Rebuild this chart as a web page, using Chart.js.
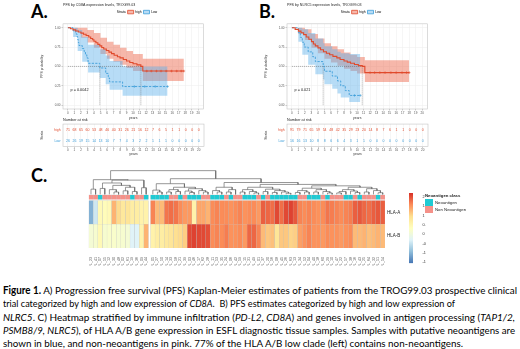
<!DOCTYPE html>
<html>
<head>
<meta charset="utf-8">
<script src="https://cdn.jsdelivr.net/npm/chart.js@4.4.1/dist/chart.umd.min.js"></script>
<style>
  html, body { margin: 0; padding: 0; background: #fff; }
  body { position: relative; width: 520px; height: 349px; overflow: hidden; }
  canvas { position: absolute; }
  .panel { position: absolute; font: bold 18px Lato, sans-serif; line-height: 18px; color: #000; }
  #caption { position: absolute; left: 3px; top: 284px; font: 10.4px Lato, sans-serif; color: #000; }
  #caption div { white-space: nowrap; width: max-content; height: 13.3px; line-height: 13.3px; transform-origin: 0 50%; }
  .neo { position: absolute; font: 4.3px 'Liberation Sans', Arial, sans-serif; color: #222; white-space: nowrap; line-height: 5px; }
  .swatch { position: absolute; width: 8px; height: 7px; }
</style>
</head>
<body>
<div class="panel" style="left:31px;top:2px">A.</div>
<div class="panel" style="left:259px;top:2px">B.</div>
<div class="panel" style="left:31px;top:166px">C.</div>

<canvas id="kmA" width="168" height="120" style="left:40px;top:0px"></canvas>
<canvas id="riskA" width="168" height="42" style="left:40px;top:114px"></canvas>
<canvas id="kmB" width="168" height="120" style="left:264px;top:0px"></canvas>
<canvas id="riskB" width="168" height="42" style="left:264px;top:114px"></canvas>
<canvas id="heat" width="335" height="101" style="left:86px;top:165px"></canvas>
<canvas id="cbar" width="22" height="80" style="left:404px;top:188px"></canvas>

<div class="neo" style="left:425px;top:192.5px;font-weight:bold">Neoantigen class</div>
<div class="swatch" id="swNeo" style="left:425px;top:199px"></div>
<div class="swatch" id="swNon" style="left:425px;top:206px"></div>
<div class="neo" style="left:435px;top:200px">Neoantigen</div>
<div class="neo" style="left:435px;top:207px">Non Neoantigen</div>

<div id="caption">
  <div data-w="514"><b>Figure 1.</b> A) Progression free survival (PFS) Kaplan-Meier estimates of patients from the TROG99.03 prospective clinical</div>
  <div data-w="452">trial categorized by high and low expression of <i>CD8A</i>.&nbsp; B) PFS estimates categorized by high and low expression of</div>
  <div data-w="512"><i>NLRC5</i>. C) Heatmap stratified by immune infiltration (<i>PD-L2, CD8A</i>) and genes involved in antigen processing (<i>TAP1/2,</i></div>
  <div data-w="512"><i>PSMB8/9, NLRC5</i>), of HLA A/B gene expression in ESFL diagnostic tissue samples. Samples with putative neoantigens are</div>
  <div data-w="460">shown in blue, and non-neoantigens in pink. 77% of the HLA A/B low clade (left) contains non-neoantigens.</div>
</div>

<script>
// ================= DATA =================
const yearTicks = [0, 1, 2, 3, 4, 5, 6, 7, 8, 9, 10, 11, 12, 13, 14, 15, 16, 17, 18, 19, 20];
const probTicks = [0, 0.25, 0.5, 0.75, 1];

// A) CD8A high / low
const aHighT = [0, 0.4, 0.8, 1.2, 1.6, 2.0, 2.4, 2.8, 3.2, 3.5, 3.8, 4.0, 4.3, 4.6, 4.9, 5.2, 5.5, 5.9, 6.3, 6.7, 7.1, 7.6, 8.0, 8.5, 9.0, 9.5, 10.0, 10.6, 11.2, 11.5, 17.8];
const aHighS = [1, 0.986, 0.972, 0.958, 0.944, 0.93, 0.915, 0.9, 0.88, 0.86, 0.845, 0.825, 0.805, 0.785, 0.765, 0.745, 0.725, 0.705, 0.685, 0.665, 0.645, 0.625, 0.61, 0.59, 0.57, 0.55, 0.535, 0.52, 0.50, 0.44, 0.44];
const aHighBandT = [0, 1, 2, 3, 4, 5, 6, 7, 8, 9, 10, 11.5, 17.8];
const aHighUp = [1, 1, 1, 0.97, 0.93, 0.87, 0.82, 0.78, 0.74, 0.70, 0.66, 0.6, 0.6];
const aHighLo = [1, 0.95, 0.87, 0.81, 0.74, 0.66, 0.6, 0.56, 0.52, 0.48, 0.44, 0.31, 0.31];
const aHighCens = [12.1, 12.8, 13.6, 14.3, 15.1, 15.9, 16.7, 17.4, 17.8];

const aLowT = [0, 0.8, 1.2, 1.4, 1.5, 1.6, 1.7, 2.2, 2.5, 2.7, 2.9, 3.1, 4.9, 5.8, 6.2, 6.4, 8.4, 15.3];
const aLowS = [1, 0.96, 0.92, 0.885, 0.846, 0.808, 0.77, 0.73, 0.69, 0.65, 0.61, 0.54, 0.48, 0.41, 0.35, 0.30, 0.24, 0.24];
const aLowBandT = [0, 0.8, 1.5, 2.2, 3.1, 4.9, 5.8, 6.4, 8.4, 15.3];
const aLowUp = [1, 1, 0.97, 0.88, 0.78, 0.72, 0.64, 0.57, 0.5, 0.5];
const aLowLo = [1, 0.88, 0.7, 0.56, 0.42, 0.35, 0.27, 0.2, 0.12, 0.12];
const aLowCens = [10.2, 11.8, 13.4, 15.3];

const riskAHigh = [71, 68, 65, 60, 53, 48, 46, 40, 31, 26, 21, 16, 12, 7, 6, 5, 1, 1, 0, 0, 0];
const riskALow = [26, 26, 19, 15, 14, 13, 10, 7, 7, 4, 3, 2, 2, 1, 1, 1, 0, 0, 0, 0, 0];

// B) NLRC5 high / low
const bHighT = [0, 0.5, 1.0, 1.4, 1.8, 2.2, 2.6, 3.0, 3.3, 3.6, 4.0, 4.4, 4.85, 5.3, 5.8, 6.3, 6.9, 7.4, 8.0, 8.5, 9.0, 9.6, 10.2, 10.8, 11.2, 18.0];
const bHighS = [1, 0.978, 0.956, 0.935, 0.91, 0.88, 0.85, 0.82, 0.79, 0.765, 0.74, 0.715, 0.69, 0.67, 0.65, 0.63, 0.61, 0.59, 0.57, 0.555, 0.54, 0.525, 0.51, 0.5, 0.42, 0.42];
const bHighBandT = [0, 1, 2, 3, 4, 5, 6, 7, 8, 9, 10, 11.2, 18];
const bHighUp = [1, 1, 0.98, 0.92, 0.86, 0.8, 0.76, 0.72, 0.68, 0.65, 0.62, 0.58, 0.58];
const bHighLo = [1, 0.92, 0.84, 0.74, 0.67, 0.6, 0.55, 0.51, 0.47, 0.44, 0.41, 0.30, 0.30];
const bHighCens = [12.0, 12.7, 13.5, 14.3, 15.2, 16.0, 16.9, 17.6, 18.0];

const bLowT = [0, 1.0, 1.3, 1.6, 1.9, 2.5, 3.2, 3.6, 4.8, 5.0, 6.2, 7.0, 7.5, 8.2, 8.8, 10.5];
const bLowS = [1, 0.9375, 0.875, 0.8125, 0.75, 0.6875, 0.625, 0.5625, 0.5, 0.4375, 0.375, 0.3125, 0.25, 0.1875, 0.125, 0.125];
const bLowBandT = [0, 1.0, 1.6, 2.5, 3.6, 4.8, 5.0, 6.2, 7.0, 7.5, 8.8, 10.5];
const bLowUp = [1, 1, 0.98, 0.93, 0.86, 0.8, 0.76, 0.72, 0.69, 0.67, 0.66, 0.66];
const bLowLo = [1, 0.82, 0.65, 0.52, 0.4, 0.33, 0.27, 0.21, 0.15, 0.1, 0.04, 0.04];
const bLowCens = [9.6, 10.5];

const riskBHigh = [91, 79, 71, 65, 59, 54, 48, 42, 35, 29, 23, 20, 14, 8, 7, 6, 1, 1, 0, 0, 0];
const riskBLow = [16, 16, 13, 10, 8, 8, 6, 6, 4, 3, 1, 1, 0, 0, 0, 0, 0, 0, 0, 0, 0];

// C) heatmap, columns in dendrogram order (13 = HLA A/B low clade)
const sampleIds = [
  'ESFL_23', 'ESFL_41', 'ESFL_07', 'ESFL_55', 'ESFL_12', 'ESFL_30', 'ESFL_48', 'ESFL_02', 'ESFL_61', 'ESFL_19', 'ESFL_36', 'ESFL_09', 'ESFL_44',
  'ESFL_05', 'ESFL_27', 'ESFL_50', 'ESFL_14', 'ESFL_33', 'ESFL_58', 'ESFL_21', 'ESFL_39', 'ESFL_03', 'ESFL_46', 'ESFL_17', 'ESFL_62', 'ESFL_28',
  'ESFL_11', 'ESFL_53', 'ESFL_35', 'ESFL_24', 'ESFL_06', 'ESFL_42', 'ESFL_59', 'ESFL_15', 'ESFL_31', 'ESFL_49', 'ESFL_01',
  'ESFL_37', 'ESFL_20', 'ESFL_56', 'ESFL_08', 'ESFL_45', 'ESFL_26', 'ESFL_63', 'ESFL_13',
  'ESFL_34', 'ESFL_52', 'ESFL_04', 'ESFL_40', 'ESFL_18', 'ESFL_60', 'ESFL_29', 'ESFL_10', 'ESFL_47', 'ESFL_22', 'ESFL_57', 'ESFL_38',
  'ESFL_16', 'ESFL_43', 'ESFL_25', 'ESFL_64', 'ESFL_32', 'ESFL_51', 'ESFL_54'
];
const hlaA = [
  -1.05, -0.45, 0.45, 0.4, 0.45, 1.3, 1.0, 0.8, 0.85, 0.7, 0.7, 0.6, 0.6,
  1.65, 1.25, 1.25, 1.75, 1.8, 1.75, 1.6, 1.5, 1.5, 0.6, 1.4, 1.4, 1.3,
  1.6, 1.65, 1.6, 1.6, 1.55, 1.6, 1.65, 1.55, 1.6, 1.6, 1.5,
  1.9, 1.85, 1.8, 2.05, 1.8, 2.05, 2.1, 1.95,
  1.65, 1.6, 1.65, 1.6, 1.55, 1.6, 1.75, 1.7, 1.65, 1.6, 1.65, 1.7,
  1.9, 1.95, 1.85, 1.8, 1.9, 1.95, 1.9
];
const hlaB = [
  0.1, 0.15, 0.45, 0.15, 0.2, 0.2, 0.15, 0.15, 0.1, -0.3, -0.3, 0.6, 1.3,
  0.6, 0.7, 0.7, 0.8, 0.85, 0.95, 1.0, 1.1, 2.05, 2.1, 2.05, 2.05, 2.0,
  1.6, 1.65, 1.6, 1.7, 1.55, 1.55, 1.6, 1.5, 1.85, 1.85, 1.65,
  1.25, 1.15, 1.2, 0.85, 1.15, 1.15, 1.05, 1.1,
  1.45, 1.55, 1.65, 1.55, 1.55, 1.5, 1.6, 1.55, 1.55, 1.5, 1.55, 1.6,
  1.25, 1.25, 1.3, 1.2, 1.25, 1.3, 1.25
];
// 1 = Neoantigen, 0 = Non Neoantigen
const neoClass = [
  0, 0, 1, 0, 0, 0, 0, 0, 0, 1, 0, 0, 1,
  1, 1, 1, 1, 0, 0, 1, 0, 1, 1, 1, 0, 0,
  1, 1, 1, 0, 1, 0, 0, 1, 1, 1, 0,
  1, 0, 1, 1, 1, 1, 1, 1,
  0, 0, 1, 1, 1, 0, 1, 0, 0, 0, 1, 1,
  0, 1, 0, 0, 0, 1, 0
];
// column dendrogram: [height, left, right], leaves are column indices
const treeLeft = [0.62, [0.22, 0, 1], [0.6, [0.48, [0.25, 2, 3], [0.38, [0.2, 4, [0.1, 5, 6]], [0.3, [0.15, 7, 8], [0.12, 9, 10]]]], [0.28, 11, 12]]];
const treeR1 = [0.45, [0.18, 13, [0.1, 14, 15]], [0.3, [0.2, [0.1, 16, 17], [0.12, 18, 19]], [0.24, [0.14, 20, [0.08, 21, 22]], [0.16, 23, [0.1, 24, 25]]]]];
const treeR2a = [0.3, [0.16, 26, [0.1, 27, 28]], [0.2, [0.1, 29, 30], 31]];
const treeR2b1 = [0.3, [0.2, [0.1, 32, 33], [0.12, 34, [0.06, 35, 36]]], [0.22, [0.12, 37, 38], [0.16, [0.08, 39, 40], [0.1, 41, [0.05, 42, 43]]]]];
const treeR2b2 = [0.36, [0.26, [0.16, [0.08, 44, 45], [0.1, 46, 47]], [0.2, [0.1, 48, 49], [0.12, 50, [0.06, 51, 52]]]], [0.3, [0.2, [0.12, [0.06, 53, 54], 55], [0.14, 56, [0.08, 57, 58]]], [0.24, [0.1, 59, 60], [0.16, 61, [0.07, 62, 63]]]]];
const treeRoot = [1.0, treeLeft, [0.66, treeR1, [0.5, treeR2a, [0.42, treeR2b1, treeR2b2]]]];

const cbTicks = [-1.5, -1, -0.5, 0, 0.5, 1, 1.5, 2];
const HEAT_MIN = -1.56, HEAT_MAX = 2.22;

// ================= STYLE =================
const HIGH = '#E04A2C', HIGH_BAND = 'rgba(234,96,66,0.45)';
const LOW = '#3E9ED9', LOW_BAND = 'rgba(95,178,236,0.45)';
const NEO = '#1FCAD3', NON = '#F59189';
const PALETTE = ['#4575B4', '#91BFDB', '#E0F3F8', '#FFFFBF', '#FEE090', '#FC8D59', '#D73027'];
const FONT = "'Liberation Sans', Arial, sans-serif";

Chart.defaults.font.family = FONT;
Chart.defaults.color = '#333';
Chart.defaults.animation = false;
Chart.defaults.plugins.tooltip.enabled = false;

document.getElementById('swNeo').style.background = NEO;
document.getElementById('swNon').style.background = NON;

// ================= HELPERS =================
function pts(t, s) { return t.map((x, i) => ({ x, y: s[i] })); }
function sAt(t, s, x) { let v = s[0]; t.forEach((ti, i) => { if (ti <= x) v = s[i]; }); return v; }
function median(t, s) { return t[s.findIndex(v => v <= 0.5)]; }

function hexRgb(h) { return [1, 3, 5].map(i => parseInt(h.slice(i, i + 2), 16)); }
function heatColor(v) {
  const f = Math.max(0, Math.min(1, (v - HEAT_MIN) / (HEAT_MAX - HEAT_MIN))) * (PALETTE.length - 1);
  const i = Math.min(PALETTE.length - 2, Math.floor(f));
  const t = f - i;
  const a = hexRgb(PALETTE[i]), b = hexRgb(PALETTE[i + 1]);
  return 'rgb(' + a.map((c, k) => Math.round(c + (b[k] - c) * t)).join(',') + ')';
}

const framePlugin = {
  id: 'frame',
  afterDraw(chart) {
    const a = chart.chartArea, c = chart.ctx;
    c.save();
    c.strokeStyle = '#c4c4c4';
    c.lineWidth = 0.6;
    c.strokeRect(a.left, a.top, a.right - a.left, a.bottom - a.top);
    c.restore();
  }
};

const pvalPlugin = {
  id: 'pval',
  afterDatasetsDraw(chart, args, opts) {
    const { ctx, scales: { x, y } } = chart;
    ctx.save();
    ctx.font = '3.8px ' + FONT;
    ctx.fillStyle = '#222';
    ctx.textBaseline = 'middle';
    ctx.fillText(opts.text, x.getPixelForValue(opts.at[0]), y.getPixelForValue(opts.at[1]));
    ctx.restore();
  }
};

const riskText = {
  id: 'riskText',
  afterDatasetsDraw(chart) {
    const ctx = chart.ctx;
    ctx.save();
    ctx.font = '3.5px ' + FONT;
    ctx.textAlign = 'center';
    ctx.textBaseline = 'middle';
    chart.data.datasets.forEach((ds, di) => {
      ctx.fillStyle = ds.borderColor;
      chart.getDatasetMeta(di).data.forEach((pt, i) => ctx.fillText(String(ds.data[i].n), pt.x, pt.y));
    });
    ctx.restore();
  }
};

const yearAxis = {
  type: 'linear', min: -0.75, max: 20.8,
  afterBuildTicks: ax => { ax.ticks = yearTicks.map(v => ({ value: v })); },
  ticks: { font: { size: 3 }, color: '#555', padding: 0.5, maxRotation: 0, autoSkip: false },
  grid: { color: '#ececec', lineWidth: 0.5, tickLength: 1.5, tickColor: '#999' },
  border: { display: false },
  title: { display: true, text: 'years', font: { size: 3.4 }, color: '#333', padding: 0 }
};

// ================= KM CHART =================
function kmChart(id, title, pText, hi, lo) {
  const mh = median(hi.t, hi.s), ml = median(lo.t, lo.s);
  const medLines = [
    { x: 0, y: 0.5 }, { x: Math.max(mh, ml), y: 0.5 }, { x: mh, y: null },
    { x: mh, y: 0.5 }, { x: mh, y: 0 }, { x: ml, y: null },
    { x: ml, y: 0.5 }, { x: ml, y: 0 }
  ];
  const band = (t, s, fill, bg, order) => ({
    data: pts(t, s), stepped: true, borderWidth: 1, borderColor: 'transparent',
    pointRadius: 0, fill, backgroundColor: bg, order
  });
  return new Chart(document.getElementById(id), {
    type: 'line',
    data: {
      datasets: [
        { data: pts(hi.t, hi.s), stepped: true, borderColor: HIGH, borderWidth: 1.1, pointRadius: 0, order: 1 },
        { data: pts(lo.t, lo.s), stepped: true, borderColor: LOW, borderWidth: 0.9, borderDash: [2.2, 1.3], pointRadius: 0, order: 1 },
        { data: hi.cens.map(x => ({ x, y: sAt(hi.t, hi.s, x) })), showLine: false, pointStyle: 'cross', pointRadius: 1.3, borderColor: HIGH, borderWidth: 0.6, order: 0 },
        { data: lo.cens.map(x => ({ x, y: sAt(lo.t, lo.s, x) })), showLine: false, pointStyle: 'cross', pointRadius: 1.3, borderColor: LOW, borderWidth: 0.6, order: 0 },
        { data: medLines, borderColor: '#555', borderWidth: 0.5, borderDash: [1, 1], pointRadius: 0, spanGaps: false, order: 2 },
        band(hi.bt, hi.lo, false, HIGH_BAND, 6),
        band(hi.bt, hi.up, '-1', HIGH_BAND, 6),
        band(lo.bt, lo.lo, false, LOW_BAND, 5),
        band(lo.bt, lo.up, '-1', LOW_BAND, 5)
      ]
    },
    options: {
      responsive: false,
      devicePixelRatio: 1,
      layout: { padding: { left: 0, right: 4, top: 0, bottom: 0 } },
      plugins: {
        title: { display: true, text: title, align: 'start', fullSize: false, font: { size: 3.6, weight: 'normal' }, color: '#222', padding: { top: 3, bottom: 1 } },
        legend: {
          display: true, fullSize: false,
          labels: {
            boxWidth: 6, boxHeight: 3.5, padding: 2, font: { size: 3.3 }, color: '#222',
            generateLabels: () => [
              { text: 'Strata', fillStyle: 'transparent', strokeStyle: 'transparent', lineWidth: 0 },
              { text: 'high', fillStyle: HIGH_BAND, strokeStyle: HIGH, lineWidth: 0.8 },
              { text: 'Low', fillStyle: LOW_BAND, strokeStyle: LOW, lineWidth: 0.8 }
            ]
          }
        },
        pval: { text: pText, at: [0.4, 0.195] }
      },
      scales: {
        x: Object.assign({}, yearAxis, { afterFit: ax => { ax.height = 11; } }),
        y: {
          min: -0.05, max: 1.05,
          afterBuildTicks: ax => { ax.ticks = probTicks.map(v => ({ value: v })); },
          afterFit: ax => { ax.width = 23; },
          ticks: { font: { size: 3 }, color: '#555', padding: 1, callback: v => Number(v).toFixed(2) },
          grid: { color: '#ececec', lineWidth: 0.5, tickLength: 1.5, tickColor: '#999' },
          border: { display: false },
          title: { display: true, text: 'PFS probability', font: { size: 3.4 }, color: '#333', padding: 0 }
        }
      }
    },
    plugins: [framePlugin, pvalPlugin]
  });
}

function riskChart(id, nHigh, nLow) {
  return new Chart(document.getElementById(id), {
    type: 'scatter',
    data: {
      datasets: [
        { data: yearTicks.map((x, i) => ({ x, y: 'high', n: nHigh[i] })), borderColor: HIGH, pointRadius: 0 },
        { data: yearTicks.map((x, i) => ({ x, y: 'Low', n: nLow[i] })), borderColor: LOW, pointRadius: 0 }
      ]
    },
    options: {
      responsive: false,
      devicePixelRatio: 1,
      layout: { padding: { left: 0, right: 4, top: 0, bottom: 0 } },
      plugins: {
        legend: { display: false },
        title: { display: true, text: 'Number at risk', align: 'start', fullSize: false, font: { size: 3.8, weight: 'normal' }, color: '#222', padding: { top: 4, bottom: 1.5 } }
      },
      scales: {
        x: Object.assign({}, yearAxis, { afterFit: ax => { ax.height = 9.5; } }),
        y: {
          type: 'category', labels: ['high', 'Low'], offset: true,
          afterFit: ax => { ax.width = 23; },
          ticks: { font: { size: 3.3 }, padding: 1, color: c => (c.index === 0 ? HIGH : LOW) },
          grid: { display: false, tickLength: 1.5 },
          border: { display: false },
          title: { display: true, text: 'Strata', font: { size: 3.4 }, color: '#333', padding: 0 }
        }
      }
    },
    plugins: [framePlugin, riskText]
  });
}

kmChart('kmA', 'PFS by CD8A expression levels, TROG99.03', 'p = 0.0042',
  { t: aHighT, s: aHighS, bt: aHighBandT, up: aHighUp, lo: aHighLo, cens: aHighCens },
  { t: aLowT, s: aLowS, bt: aLowBandT, up: aLowUp, lo: aLowLo, cens: aLowCens });
riskChart('riskA', riskAHigh, riskALow);

kmChart('kmB', 'PFS by NLRC5 expression levels, TROG99.03', 'p = 0.021',
  { t: bHighT, s: bHighS, bt: bHighBandT, up: bHighUp, lo: bHighLo, cens: bHighCens },
  { t: bLowT, s: bLowS, bt: bLowBandT, up: bLowUp, lo: bLowLo, cens: bLowCens });
riskChart('riskB', riskBHigh, riskBLow);

// ================= HEATMAP =================
const LOW_CLADE = 13, GAP = 0.45;
const X_MAX = sampleIds.length + GAP;
const DENDRO_BASE = 2.26;
function leafX(i) { return i + 0.5 + (i >= LOW_CLADE ? GAP : 0); }

const treeSegs = [];
function walk(node) {
  if (typeof node === 'number') return { x: leafX(node), h: 0 };
  const [h, a, b] = node;
  const l = walk(a), r = walk(b);
  treeSegs.push(
    { x: l.x, y: DENDRO_BASE + l.h }, { x: l.x, y: DENDRO_BASE + h },
    { x: r.x, y: DENDRO_BASE + h }, { x: r.x, y: DENDRO_BASE + r.h },
    { x: r.x, y: null }
  );
  return { x: (l.x + r.x) / 2, h };
}
walk(treeRoot);

const cellBorder = { borderColor: 'rgba(150,150,150,0.45)', borderWidth: 0.4 };
new Chart(document.getElementById('heat'), {
  type: 'bar',
  data: {
    datasets: [
      { type: 'line', data: treeSegs, borderColor: '#6a6a6a', borderWidth: 0.7, pointRadius: 0, spanGaps: false, order: 0 },
      Object.assign({ label: 'HLA-B', data: hlaB.map((v, i) => ({ x: leafX(i), y: [0, 1] })), backgroundColor: hlaB.map(heatColor), order: 1 }, cellBorder),
      Object.assign({ label: 'HLA-A', data: hlaA.map((v, i) => ({ x: leafX(i), y: [1, 2] })), backgroundColor: hlaA.map(heatColor), order: 1 }, cellBorder),
      Object.assign({ label: 'Neoantigen class', data: neoClass.map((c, i) => ({ x: leafX(i), y: [2.04, 2.24] })), backgroundColor: neoClass.map(c => (c ? NEO : NON)), order: 1 }, cellBorder)
    ]
  },
  options: {
    responsive: false,
    devicePixelRatio: 1,
    layout: { padding: { left: 2.7, top: 2.5, right: 0, bottom: 0 } },
    datasets: { bar: { grouped: false, barPercentage: 1, categoryPercentage: 1 } },
    plugins: { legend: { display: false } },
    scales: {
      x: {
        type: 'linear', min: 0, max: X_MAX, offset: false,
        afterBuildTicks: ax => { ax.ticks = sampleIds.map((s, i) => ({ value: leafX(i) })); },
        afterFit: ax => { ax.height = 18; },
        ticks: { autoSkip: false, minRotation: 90, maxRotation: 90, font: { size: 3.6 }, color: '#555', padding: 1, callback: (v, i) => sampleIds[i] },
        grid: { display: false },
        border: { display: false }
      },
      y: { min: 0, max: 3.3, display: false },
      yr: {
        position: 'right', min: 0, max: 3.3,
        afterBuildTicks: ax => { ax.ticks = [{ value: 1.5 }, { value: 0.5 }]; },
        afterFit: ax => { ax.width = 36; },
        ticks: { font: { size: 4.5 }, color: '#222', padding: 2, callback: v => (v > 1 ? 'HLA-A' : 'HLA-B') },
        grid: { display: false, drawTicks: false, tickLength: 0 },
        border: { display: false }
      }
    }
  }
});

// colour key
new Chart(document.getElementById('cbar'), {
  type: 'bar',
  data: {
    labels: [''],
    datasets: [{
      data: [[HEAT_MIN, HEAT_MAX]], borderWidth: 0, barPercentage: 1, categoryPercentage: 1,
      backgroundColor: c => {
        const ch = c.chart;
        if (!ch.chartArea) return PALETTE[3];
        const y = ch.scales.y;
        const g = ch.ctx.createLinearGradient(0, y.getPixelForValue(HEAT_MIN), 0, y.getPixelForValue(HEAT_MAX));
        PALETTE.forEach((col, i) => g.addColorStop(i / (PALETTE.length - 1), col));
        return g;
      }
    }]
  },
  options: {
    responsive: false,
    devicePixelRatio: 1,
    layout: { padding: { left: 5, top: 5, right: 0, bottom: 4.8 } },
    plugins: { legend: { display: false } },
    scales: {
      x: { display: false },
      y: {
        position: 'right', min: HEAT_MIN, max: HEAT_MAX,
        afterBuildTicks: ax => { ax.ticks = cbTicks.map(v => ({ value: v })); },
        afterFit: ax => { ax.width = 13; },
        ticks: { font: { size: 3.8 }, color: '#333', padding: 1.5, callback: v => String(v) },
        grid: { display: false },
        border: { display: false }
      }
    }
  }
});

// fit caption lines to the widths in the figure
document.querySelectorAll('#caption div').forEach(d => {
  const w = d.getBoundingClientRect().width;
  d.style.transform = 'scaleX(' + (Number(d.dataset.w) / w) + ')';
});
</script>
</body>
</html>
